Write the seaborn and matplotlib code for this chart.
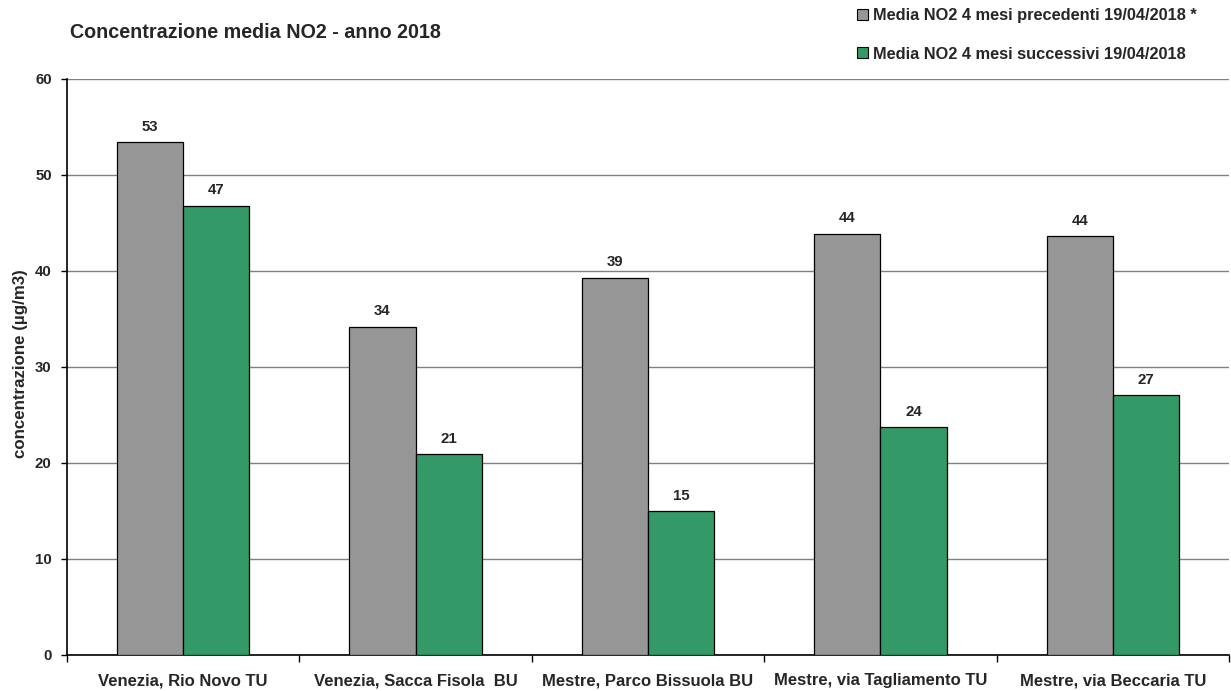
import matplotlib
matplotlib.use("Agg")
import matplotlib.pyplot as plt
import seaborn as sns
import pandas as pd
from matplotlib.patches import Patch

stations = ["Venezia, Rio Novo TU", "Venezia, Sacca Fisola  BU", "Mestre, Parco Bissuola BU",
            "Mestre, via Tagliamento TU", "Mestre, via Beccaria TU"]
series_names = ["Media NO2 4 mesi precedenti 19/04/2018 *", "Media NO2 4 mesi successivi 19/04/2018"]
before = [53.4, 34.2, 39.3, 43.9, 43.6]
after = [46.8, 20.9, 15.0, 23.7, 27.1]
colors = ["#969696", "#339966"]
title = "Concentrazione media NO2 - anno 2018"
ylabel = "concentrazione (µg/m3)"

df = pd.DataFrame({
    "station": stations * 2,
    "serie": [series_names[0]] * 5 + [series_names[1]] * 5,
    "value": before + after,
})

sns.set_style("white")
plt.rcParams["font.family"] = ["Liberation Sans", "DejaVu Sans"]
plt.rcParams["font.weight"] = "bold"

W, H = 1231, 691
fig = plt.figure(figsize=(W / 100, H / 100), dpi=100)
renderer = fig.canvas.get_renderer()


def fit(s, target_px, base=10.0):
    t = fig.text(0, 0, s, fontsize=base, fontweight="bold")
    w = t.get_window_extent(renderer).width
    t.remove()
    return base * target_px / w


fs_title = fit(title, 370)
fs_cat = fit(stations[0], 170)
fs_leg = fit(series_names[0], 326)
fs_tick = fit("40", 16.7)
fs_ylab = fit(ylabel, 188)

ax = fig.add_axes([67 / W, 1 - 655 / H, (1229 - 67) / W, (655 - 79) / H])

sns.barplot(data=df, x="station", y="value", hue="serie", order=stations,
            hue_order=series_names, palette=colors, width=0.57, saturation=1,
            edgecolor="black", linewidth=0.9, ax=ax, legend=False, zorder=3)

for c in ax.containers:
    ax.bar_label(c, fmt="%.0f", padding=6, fontsize=fs_tick, fontweight="bold")

ax.set_ylim(0, 60)
ax.set_xlim(-0.5, 4.5)
ax.set_yticks(range(0, 61, 10))
ax.yaxis.grid(True, color="#808080", linewidth=1.0, zorder=0)
ax.set_axisbelow(True)
ax.tick_params(axis="y", left=True, length=4, width=1, color="black", labelsize=fs_tick, pad=7)
for t in ax.get_yticklabels():
    t.set_fontweight("bold")
ax.set_xticks(range(5))
ax.set_xticklabels(stations, fontsize=fs_cat, fontweight="bold")
ax.set_xticks([i - 0.5 for i in range(6)], minor=True)
ax.tick_params(axis="x", which="major", length=0, pad=13)
ax.tick_params(axis="x", which="minor", bottom=True, length=5, width=1, color="black")
ax.set_xlabel("")
ax.set_ylabel("")
fig.text(21 / W, 1 - 364 / H, ylabel, rotation=90, fontsize=fs_ylab, fontweight="bold",
         ha="center", va="center")

for s in ["top", "right"]:
    ax.spines[s].set_visible(False)
for s in ["left", "bottom"]:
    ax.spines[s].set_color("black")
    ax.spines[s].set_linewidth(1.2)

fig.text(70 / W, 1 - 32 / H, title, fontsize=fs_title, fontweight="bold", ha="left", va="center")

handles = [Patch(facecolor=colors[i], edgecolor="black", linewidth=0.8, label=series_names[i]) for i in range(2)]
leg_px = fs_leg * 100 / 72
fig.legend(handles=handles, loc="upper left", bbox_to_anchor=(857 / W, 1 - 8 / H), frameon=False,
           prop={"size": fs_leg, "weight": "bold"}, borderpad=0, borderaxespad=0,
           handlelength=11 / leg_px, handleheight=11 / leg_px,
           handletextpad=5 / leg_px, labelspacing=(40 - leg_px) / leg_px)

fig.savefig("out.png", dpi=100)
